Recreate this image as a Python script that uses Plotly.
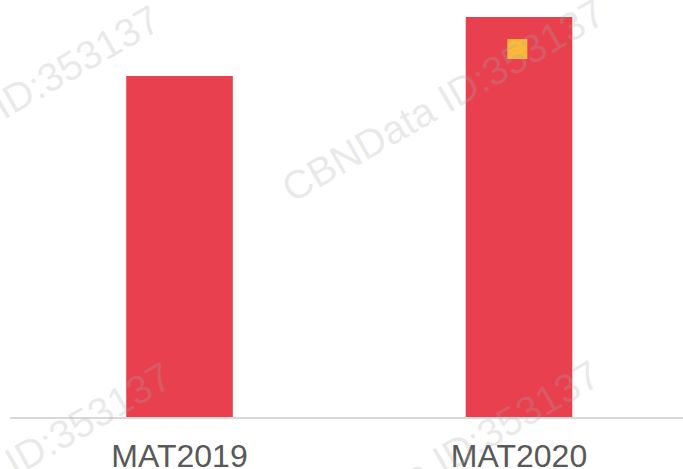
import plotly.graph_objects as go

categories = ["MAT2019", "MAT2020"]
values = [85.25, 100.0]
marker_pos = [0.995]
marker_val = [92.0]
watermark = "CBNData ID:353137"

xpos = list(range(len(categories)))

fig = go.Figure()
fig.add_trace(go.Bar(
    x=xpos, y=values, width=0.314,
    marker=dict(color="#E8404E", line=dict(width=0)),
    showlegend=False, hoverinfo="skip"))
fig.add_trace(go.Scatter(
    x=marker_pos, y=marker_val, mode="markers",
    marker=dict(symbol="square", size=20, color="#FBB83A", line=dict(width=0)),
    showlegend=False, hoverinfo="skip"))

for (px, py) in [(440, 113), (-12, 120), (0, 522), (435, 520)]:
    fig.add_annotation(
        x=px / 683, y=1 - py / 469, xref="paper", yref="paper",
        text=watermark, showarrow=False, textangle=-30,
        font=dict(family="Liberation Sans, Arial", size=40, color="rgba(170,170,170,0.25)"),
        xanchor="center", yanchor="middle")

fig.update_layout(
    width=683, height=469,
    margin=dict(l=10, r=0, t=0, b=52, autoexpand=False),
    paper_bgcolor="white", plot_bgcolor="white",
    xaxis=dict(range=[-0.4993, 1.483], showgrid=False, zeroline=False,
               tickvals=xpos, ticktext=categories, automargin=False,
               showline=True, linecolor="#D9D9D9", linewidth=2,
               ticks="outside", ticklen=10, tickcolor="rgba(0,0,0,0)",
               tickfont=dict(family="Liberation Sans, Arial", size=32, color="#595959")),
    yaxis=dict(range=[0, 104.25], visible=False),
)
fig.write_html("out.html", config={"displayModeBar": False},
               post_script="document.body.style.margin='0';document.body.style.overflow='hidden';")
